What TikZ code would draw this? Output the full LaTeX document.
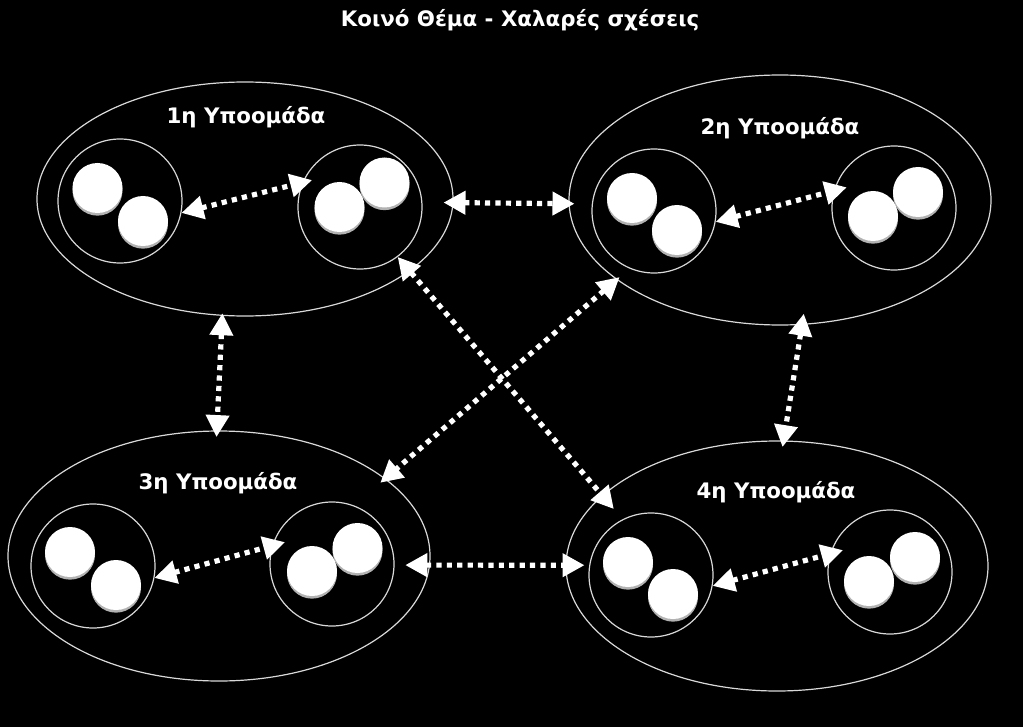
\documentclass[tikz,border=0pt]{standalone}
\usepackage{fontspec}
\setmainfont{DejaVu Sans}
\usetikzlibrary{arrows.meta,shapes.geometric,shadows}
\begin{document}
\begin{tikzpicture}[x=0.75pt,y=-0.75pt,
  group/.style={ellipse, draw=white!85!black, line width=0.9pt, inner sep=0pt},
  sub/.style={circle, draw=white!85!black, line width=0.9pt, minimum size=93pt, inner sep=0pt},
  ball/.style={circle, fill=white, minimum size=37.5pt, inner sep=0pt,
    drop shadow={shadow xshift=0pt, shadow yshift=-2pt, fill=gray!60, opacity=1}},
  lbl/.style={text=white, font=\bfseries\fontsize{16}{19}\selectfont},
  link/.style={white, line width=3.9pt, dash pattern=on 3.9pt off 3.9pt,
    {Triangle[length=16.5pt,width=17pt]}-{Triangle[length=16.5pt,width=17pt]}}
]
\fill[black] (0,0) rectangle (1023,727);

% groups
\node[group, minimum width=312pt, minimum height=175.5pt] (g1) at (245,199) {};
\node[group, minimum width=316.5pt, minimum height=187.5pt] (g2) at (780,200) {};
\node[group, minimum width=316.5pt, minimum height=187.5pt] (g3) at (219,556) {};
\node[group, minimum width=316.5pt, minimum height=187.5pt] (g4) at (777,566) {};

% sub-groups
\node[sub] (s1a) at (120,201) {};
\node[sub] (s1b) at (360,207) {};
\node[sub] (s2a) at (654,211) {};
\node[sub] (s2b) at (894,208) {};
\node[sub] (s3a) at (93,566) {};
\node[sub] (s3b) at (332,564) {};
\node[sub] (s4a) at (651,575) {};
\node[sub] (s4b) at (890,572) {};

% balls
\node[ball] (b1a1) at (97.5,188) {};
\node[ball] (b1a2) at (143,221) {};
\node[ball] (b1b2) at (384.5,182.5) {};
\node[ball] (b1b1) at (339.5,207) {};
\node[ball] (b2a1) at (632,198) {};
\node[ball] (b2a2) at (677,230) {};
\node[ball] (b2b2) at (918,192) {};
\node[ball] (b2b1) at (873,216) {};
\node[ball] (b3a1) at (70,552) {};
\node[ball] (b3a2) at (116,585) {};
\node[ball] (b3b2) at (357.5,548) {};
\node[ball] (b3b1) at (312,571) {};
\node[ball] (b4a1) at (628,562) {};
\node[ball] (b4a2) at (673,594) {};
\node[ball] (b4b2) at (915,557) {};
\node[ball] (b4b1) at (869,581) {};

% labels
\node[lbl] (title) at (520,20) {Κοινό Θέμα - Χαλαρές σχέσεις};
\node[lbl] (t1) at (246,117) {1η Υποομάδα};
\node[lbl] (t2) at (780,128) {2η Υποομάδα};
\node[lbl] (t3) at (218,483) {3η Υποομάδα};
\node[lbl] (t4) at (776,492) {4η Υποομάδα};

% connectors
\draw[link, shorten >=-7.5pt] (s1a.-11) -- (s1b.157);
\draw[link, shorten <=-7.5pt, shorten >=-4.5pt] (g1.-1) -- (g2.181);
\draw[link, shorten >=-10pt] (s2a.-10) -- (s2b.164);
\draw[link, shorten <=-2pt, shorten >=-5pt] (g1.259) -- (g3.91);
\draw[link, shorten <=-8.5pt, shorten >=-5pt] (g2.280) -- (g4.87);
\draw[link, shorten >=-13.5pt] (s1b.-53) -- (g4.158);
\draw[link, shorten <=-3pt, shorten >=-5pt] (g2.206) -- (g3.25);
\draw[link, shorten >=-10pt] (s3a.-11) -- (s3b.163);
\draw[link, shorten <=8pt, shorten >=3.5pt] (s3b.-1) -- (s4a.171);
\draw[link, shorten >=-10pt] (s4a.-10) -- (s4b.163);
\end{tikzpicture}
\end{document}
